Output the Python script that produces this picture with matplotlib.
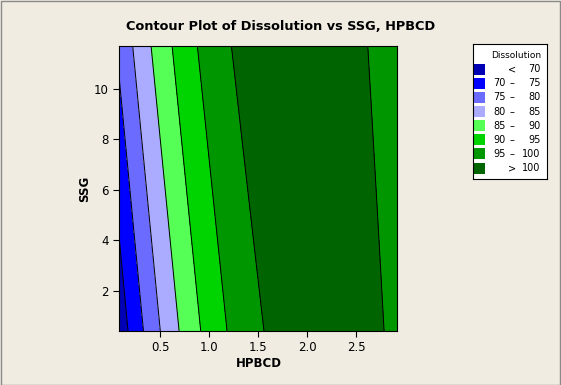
import numpy as np
import matplotlib
matplotlib.use('Agg')
import matplotlib.pyplot as plt
from matplotlib.patches import Rectangle

# fitted response surface: Dissolution = f(HPBCD, SSG)
hpbcd_range = [0.08, 2.92]
ssg_range = [0.4, 11.7]
coef = {'b0': 63.81, 'b1': 36.04, 'b2': 0.876,
        'b11': -8.27, 'b22': -0.00404, 'b12': -0.3655}

levels = [70, 75, 80, 85, 90, 95, 100]
band_colors = ['#0000B4', '#0000FF', '#6B6BFF', '#ABABFF',
               '#55FF55', '#00D400', '#009600', '#006400']
legend_left = ['', '70', '75', '80', '85', '90', '95', '']
legend_mid = ['<', '\u2013', '\u2013', '\u2013', '\u2013', '\u2013', '\u2013', '>']
legend_right = ['70', '75', '80', '85', '90', '95', '100', '100']
xticks = [0.5, 1.0, 1.5, 2.0, 2.5]
yticks = [2, 4, 6, 8, 10]

bg = '#F0ECE2'
plt.rcParams['font.family'] = ['DejaVu Sans']

x = np.linspace(hpbcd_range[0], hpbcd_range[1], 400)
y = np.linspace(ssg_range[0], ssg_range[1], 400)
X, Y = np.meshgrid(x, y)
Z = (coef['b0'] + coef['b1'] * X + coef['b2'] * Y + coef['b11'] * X**2
     + coef['b22'] * Y**2 + coef['b12'] * X * Y)

fig = plt.figure(figsize=(5.61, 3.85), dpi=100, facecolor=bg)
ax = fig.add_axes([119.3 / 561, 54 / 385, 278.2 / 561, 285 / 385])

all_levels = [Z.min() - 1] + levels + [Z.max() + 1]
ax.contourf(X, Y, Z, levels=all_levels, colors=band_colors)
ax.contour(X, Y, Z, levels=levels, colors='black', linewidths=0.7)

ax.set_xlim(hpbcd_range)
ax.set_ylim(ssg_range)
ax.set_xticks(xticks)
ax.set_xticklabels([f'{t:.1f}' for t in xticks])
ax.set_yticks(yticks)
ax.tick_params(labelsize=8.5, length=4, width=0.8, direction='out')
for s in ax.spines.values():
    s.set_linewidth(0.8)
ax.set_xlabel('HPBCD', fontsize=8.5, fontweight='bold', labelpad=2)
ax.set_ylabel('SSG', fontsize=8.5, fontweight='bold', labelpad=2)
fig.text(281 / 561, 1 - 27 / 385, 'Contour Plot of Dissolution vs SSG, HPBCD',
         ha='center', va='center', fontsize=9.3, fontweight='bold')

# legend box drawn by hand in pixel coordinates
lg = fig.add_axes([472.7 / 561, (385 - 179) / 385, 74.6 / 561, 135 / 385])
lg.set_xlim(0, 74.6)
lg.set_ylim(135, 0)
lg.set_xticks([])
lg.set_yticks([])
lg.set_facecolor('white')
for s in lg.spines.values():
    s.set_linewidth(0.8)
lg.text(43.5, 11.7, 'Dissolution', ha='center', va='center', fontsize=6.5)
for i, c in enumerate(band_colors):
    yc = 25.3 + i * 14.1
    lg.add_patch(Rectangle((1, yc - 5.5), 11.5, 11, facecolor=c, edgecolor='none'))
    lg.text(20.5, yc, legend_left[i], ha='left', va='center', fontsize=7)
    lg.text(39.5, yc, legend_mid[i], ha='center', va='center', fontsize=7)
    lg.text(68, yc, legend_right[i], ha='right', va='center', fontsize=7)

fig.patches.append(Rectangle((0.001, 0.001), 0.997, 0.996, transform=fig.transFigure,
                             fill=False, edgecolor='#8A8A8A', linewidth=1))

fig.savefig('out.png', dpi=100, facecolor=bg)
